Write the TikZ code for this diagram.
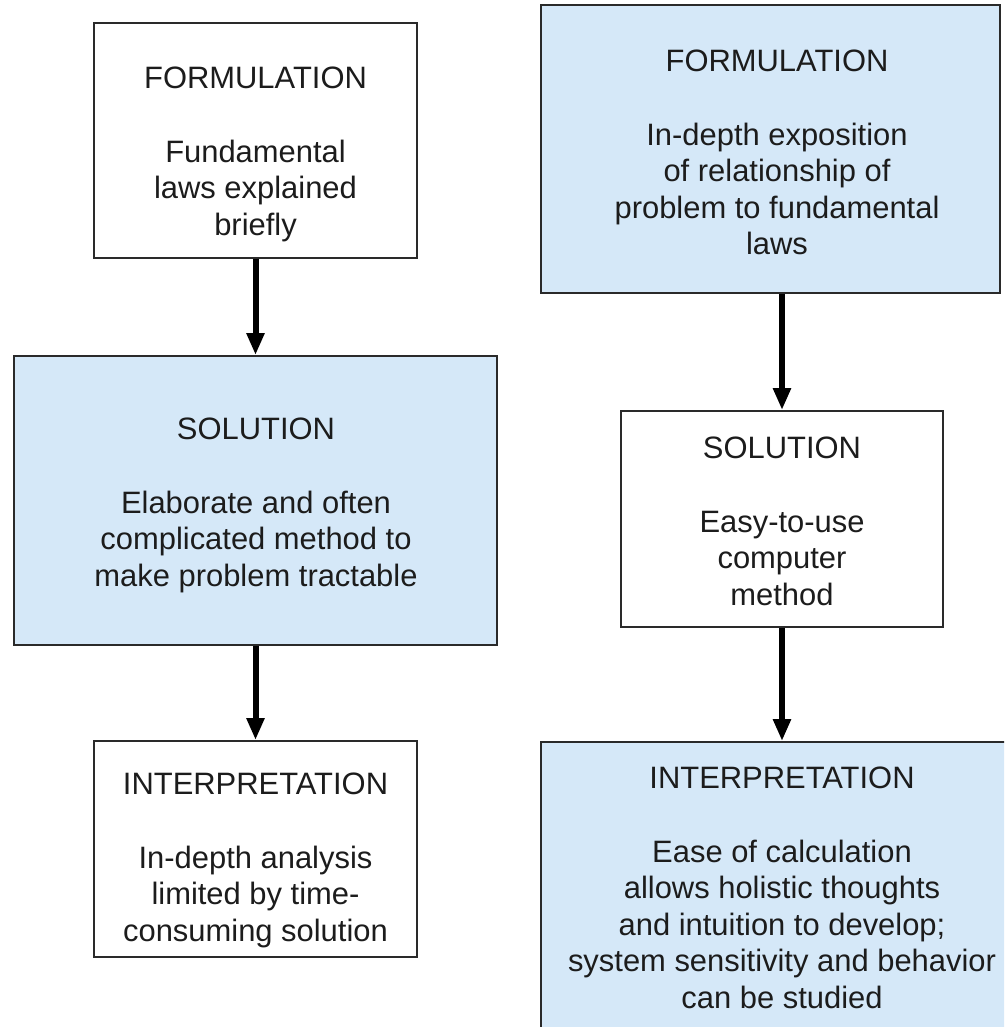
\documentclass[tikz,border=0pt]{standalone}
\usepackage{fontspec}
\setmainfont{Liberation Sans}
\usetikzlibrary{arrows.meta, positioning}
\definecolor{stageblue}{HTML}{D5E8F8}
\definecolor{stageline}{HTML}{2A2A2A}
\definecolor{stagetxt}{HTML}{1C1C1C}
\tikzset{
  % riquadro di una fase
  stage/.style={draw=stageline, line width=0.04cm, fill=white, inner sep=0pt},
  stage hl/.style={stage, fill=stageblue},
  % testo di una fase
  stagetext/.style={align=center, inner sep=0pt, text=stagetxt,
    font=\fontsize{17.6}{20.8}\selectfont},
  % freccia tra le fasi
  flow/.style={-{Triangle[length=0.44cm, width=0.34cm]}, line width=0.12cm, black},
}

\begin{document}
\begin{tikzpicture}[x=0.02cm, y=-0.02cm]
  \useasboundingbox (0,0) rectangle (1004,1027);
  \clip (0,0) rectangle (1004,1027);
  % colonna sinistra
  \node[stage, minimum width=6.46cm, minimum height=4.70cm] (form1) at (255.5,140.5) {};
  \node[stage hl, minimum width=9.66cm, minimum height=5.78cm] (sol1) at (255.5,500.5) {};
  \node[stage, minimum width=6.46cm, minimum height=4.32cm] (int1) at (255.5,849) {};
  \node[stagetext, anchor=north] (form1txt) at (255.5,67)
    {FORMULATION\\[20.8pt] Fundamental\\laws explained\\briefly};
  \node[stagetext, anchor=north] (sol1txt) at (256,418)
    {SOLUTION\\[20.8pt] Elaborate and often\\complicated method to\\make problem tractable};
  \node[stagetext, anchor=north] (int1txt) at (255.5,773)
    {INTERPRETATION\\[20.8pt] In-depth analysis\\limited by time-\\consuming solution};
  % colonna destra
  \node[stage hl, minimum width=9.18cm, minimum height=5.76cm] (form2) at (770.5,149) {};
  \node[stage, minimum width=6.44cm, minimum height=4.32cm] (sol2) at (782,519) {};
  \node[stage hl, minimum width=10.0cm, minimum height=6.06cm] (int2) at (791,893.5) {};
  \node[stagetext, anchor=north] (form2txt) at (777,50)
    {FORMULATION\\[20.8pt] In-depth exposition\\of relationship of\\problem to fundamental\\laws};
  \node[stagetext, anchor=north] (sol2txt) at (782,437)
    {SOLUTION\\[20.8pt] Easy-to-use\\computer\\method};
  \node[stagetext, anchor=north] (int2txt) at (782,767)
    {INTERPRETATION\\[20.8pt] Ease of calculation\\allows holistic thoughts\\and intuition to develop;\\system sensitivity and behavior\\can be studied};
  % frecce
  \draw[flow] (form1) -- (sol1);
  \draw[flow] (sol1) -- (int1);
  \draw[flow] (sol2.north |- form2.south) -- (sol2);
  \draw[flow] (sol2) -- (int2.north -| sol2);
\end{tikzpicture}
\end{document}
